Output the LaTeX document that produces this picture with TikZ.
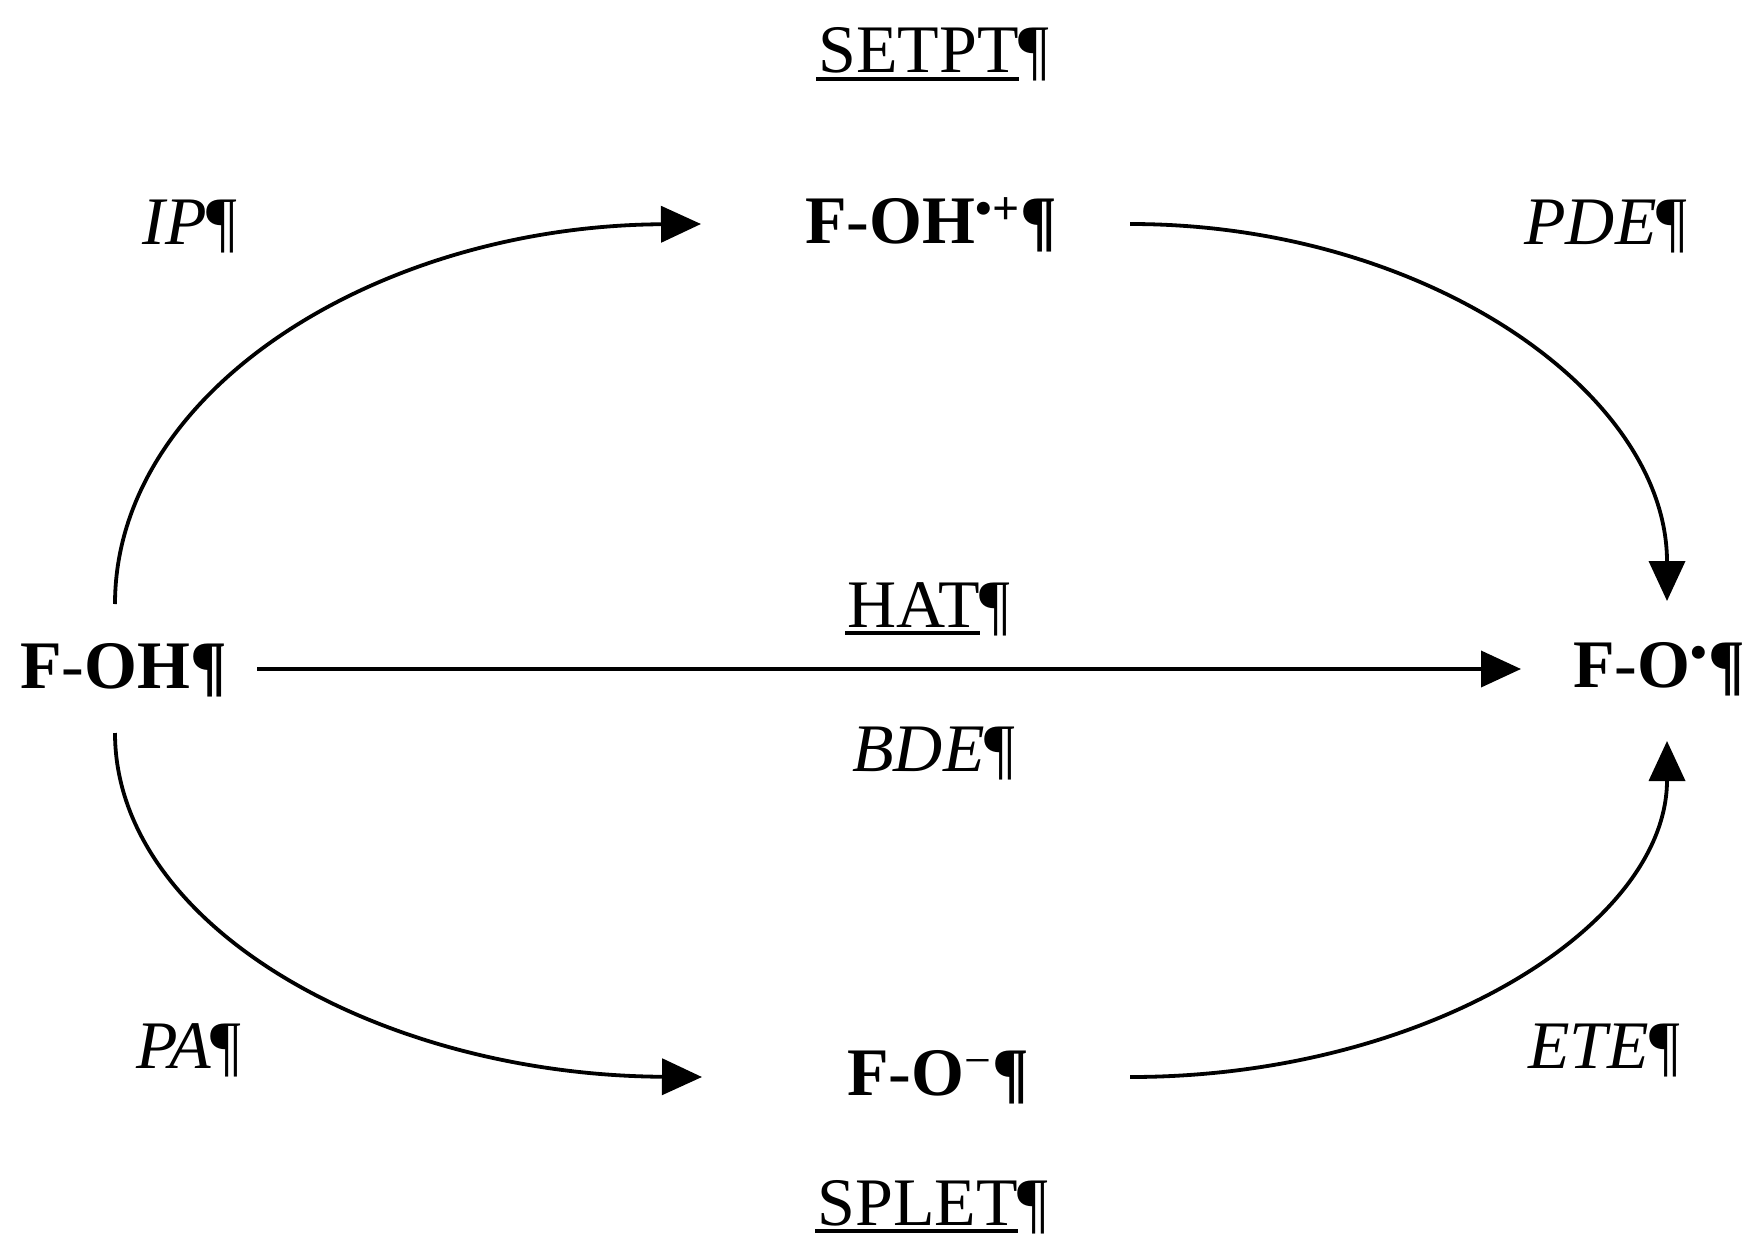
\documentclass[tikz,border=0pt]{standalone}
\usepackage{fontspec}
\setmainfont{Liberation Serif}
\usetikzlibrary{arrows.meta}
\newcommand{\ulx}[1]{\setbox0\hbox{#1}\rlap{\kern-1pt\rule[-3.8pt]{\dimexpr\wd0+1pt\relax}{2pt}}\box0}
\begin{document}
\begin{tikzpicture}[x=0.5pt,y=-0.5pt,
  lbl/.style={anchor=base west,inner sep=0pt,font=\fontsize{34}{40}\selectfont},
  spc/.style={lbl,font=\fontsize{34}{40}\selectfont\bfseries},
  conn/.style={line width=1.9pt,-{Triangle[length=20pt,width=18pt]}}]
\useasboundingbox[fill=white] (0,0) rectangle (1754,1241);
% species
\node[spc] (foh) at (20,688) {F\textmd{-}OH¶};
\node[spc] (fohc) at (805,243) {F\textmd{-}OH\textsuperscript{•+}¶};
\node[spc] (fo) at (1573,687) {F\textmd{-}O\textsuperscript{•}¶};
\node[spc] (foa) at (847,1095) {F\textmd{-}O\textsuperscript{\textmd{−}}¶};
% labels
\node[lbl] (setpt) at (818,73) {\ulx{SETPT}¶};
\node[lbl] (hat) at (847,627) {\ulx{HAT}¶};
\node[lbl] (bde) at (852,771) {\textit{BDE}¶};
\node[lbl] (splet) at (817,1225) {\ulx{SPLET}¶};
\node[lbl] (ip) at (142,244) {\textit{IP}¶};
\node[lbl] (pde) at (1524,244) {\textit{PDE}¶};
\node[lbl] (pa) at (136,1068) {\textit{PA}¶};
\node[lbl] (ete) at (1528,1068) {\textit{ETE}¶};
% connector ends
\coordinate (ulS) at (115,604);
\coordinate (ulE) at (701,224);
\coordinate (urS) at (1130,224);
\coordinate (urE) at (1667,601);
\coordinate (hS) at (257,669);
\coordinate (hE) at (1521,669);
\coordinate (llS) at (115,733);
\coordinate (llE) at (702,1077);
\coordinate (lrS) at (1130,1077);
\coordinate (lrE) at (1667,741);
% connectors
\draw[conn] (ulS) .. controls (115,390) and (378,226) .. (ulE);
\draw[conn] (urS) .. controls (1426,224) and (1667,393) .. (urE);
\draw[conn] (hS) -- (hE);
\draw[conn] (llS) .. controls (115,925) and (378,1075) .. (llE);
\draw[conn] (lrS) .. controls (1426,1077) and (1667,926) .. (lrE);
\end{tikzpicture}
\end{document}
